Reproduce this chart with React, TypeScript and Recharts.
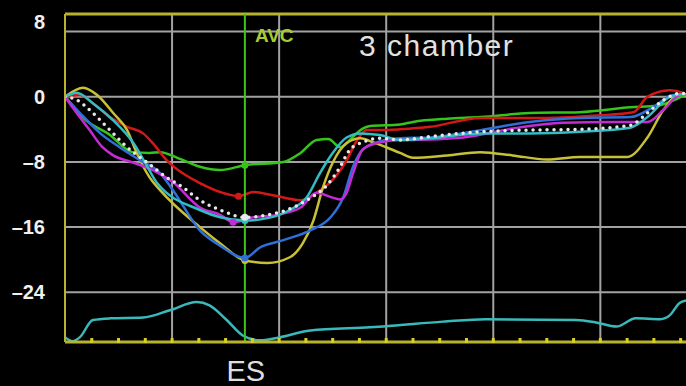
import React from "react";
import { LineChart, Line, XAxis, YAxis, CartesianGrid, ReferenceLine } from "recharts";

// time in ms (x), strain in % (y)
const X_MAX = 580;
const Y_MIN = -30.1;
const Y_MAX = 10.15;
const AVC_T = 168;

const yTicks = [8, 0, -8, -16, -24];
const majorTimes = [100, 200, 300, 400, 500];
const minorTimes = [25, 50, 75, 100, 125, 150, 175, 200, 225, 250, 275, 300, 325, 350, 375, 400, 425, 450, 475, 500, 525, 550, 575];

const green: [number, number][] = [
  [0, 0.1], [17, -2.6], [42, -4.7], [63, -6.8], [79, -6.9], [89, -6.8], [105, -7.5], [126, -8.6],
  [145, -9.0], [168, -8.4], [204, -8.0], [220, -6.9], [235, -5.3], [246, -5.2], [257, -6.2], [266, -5.3],
  [276, -4.1], [285, -3.6], [313, -3.4], [325, -3.1], [357, -2.7], [388, -2.5], [434, -2.0], [481, -1.9],
  [528, -1.3], [553, -1.1], [580, 0.3],
];
const red: [number, number][] = [
  [0, 0], [14, 0.2], [26, -0.8], [42, -2.5], [58, -3.7], [73, -4.5], [82, -5.7], [95, -7.8], [110, -9.4],
  [126, -10.6], [145, -11.7], [162, -12.2], [176, -11.7], [194, -12.1], [220, -12.7], [238, -11.5],
  [250, -10.2], [263, -7.8], [273, -5.3], [282, -4.1], [294, -4.1], [313, -4.0], [341, -3.7], [388, -2.6],
  [450, -2.6], [497, -2.3], [531, -1.9], [544, 0], [565, 0.8], [577, 0.5], [580, 0.2],
];
const yellow: [number, number][] = [
  [0, 0], [17, 1.1], [30, 0.2], [45, -2.0], [58, -4.1], [67, -6.9], [79, -9.9], [89, -11.5], [126, -16.0],
  [145, -18.0], [168, -20.1], [189, -20.4], [210, -19.7], [222, -18.0], [232, -15.2], [241, -11.1],
  [250, -8.1], [263, -5.7], [276, -5.1], [288, -5.6], [313, -6.9], [325, -7.5], [357, -7.2], [388, -6.8],
  [418, -7.2], [450, -7.7], [481, -7.4], [525, -7.4], [544, -5.0], [559, -1.6], [572, 0.2], [580, 0.3],
];
const cyan: [number, number][] = [
  [0, 0], [11, 0.5], [26, -0.8], [45, -2.9], [64, -5.7], [77, -8.6], [86, -10.6], [126, -13.9], [145, -14.8],
  [168, -15.2], [189, -14.9], [210, -13.9], [226, -12.3], [238, -9.4], [250, -6.9], [263, -5.0], [276, -4.5],
  [294, -4.7], [313, -5.3], [341, -5.1], [388, -4.5], [434, -4.5], [481, -4.3], [528, -3.8], [544, -2.5],
  [565, 0], [577, 0.3], [580, 0.3],
];
const blue: [number, number][] = [
  [0, 0], [14, -2.0], [33, -4.5], [51, -6.2], [70, -7.8], [89, -9.4], [101, -11.5], [126, -16.4],
  [145, -18.3], [168, -19.8], [182, -18.5], [204, -17.6], [229, -16.4], [248, -14.8], [260, -12.3],
  [269, -8.6], [278, -6.5], [291, -5.6], [313, -5.1], [341, -5.0], [388, -4.1], [434, -3.1], [481, -2.6],
  [528, -2.5], [549, -1.3], [568, 0.2], [580, 0.3],
];
const magenta: [number, number][] = [
  [0, 0], [7, -1.3], [23, -4.1], [35, -6.2], [45, -7.2], [64, -8.1], [82, -9.0], [101, -10.5], [126, -13.6],
  [145, -14.5], [157, -15.4], [176, -14.8], [198, -14.5], [220, -13.6], [235, -11.8], [248, -12.3],
  [257, -12.6], [263, -11.8], [269, -9.4], [278, -6.5], [291, -5.7], [313, -5.3], [325, -5.3], [372, -5.0],
  [418, -3.9], [465, -3.2], [512, -3.1], [544, -3.1], [559, -1.6], [574, 0.2], [580, 0.3],
];
const average: [number, number][] = [
  [0, 0], [11, -0.4], [26, -2.0], [42, -4.1], [58, -6.2], [77, -8.1], [95, -9.9], [110, -11.1], [126, -12.7],
  [145, -13.9], [168, -14.8], [189, -14.5], [207, -13.9], [226, -12.7], [245, -10.8], [257, -8.6],
  [266, -6.5], [278, -5.6], [294, -5.1], [313, -5.3], [341, -4.9], [388, -4.3], [434, -4.1], [481, -4.0],
  [528, -3.5], [544, -2.0], [559, -0.4], [574, 0.4], [580, 0.4],
];
const ecg: [number, number][] = [
  [0, -29.5], [7, -30.0], [14, -29.5], [26, -27.4], [42, -27.2], [73, -27.1], [98, -26.2], [123, -25.2],
  [135, -25.6], [151, -27.4], [166, -29.3], [182, -29.9], [198, -29.6], [229, -28.7], [285, -28.3],
  [297, -28.2], [353, -27.6], [393, -27.3], [477, -27.4], [496, -27.7], [515, -28.2], [533, -27.2],
  [556, -27.3], [565, -26.8], [574, -25.3], [580, -25.0],
];

const series = [
  { key: "green", pts: green, color: "#36c41c", markT: 168 },
  { key: "red", pts: red, color: "#d41818", markT: 162 },
  { key: "yellow", pts: yellow, color: "#c8c136", markT: 168 },
  { key: "blue", pts: blue, color: "#2f6fd8", markT: 168 },
  { key: "magenta", pts: magenta, color: "#c42ad6", markT: 157 },
  { key: "cyan", pts: cyan, color: "#32bcc4", markT: 168 },
];

const toRows = (pts: [number, number][]) => pts.map(([t, v]) => ({ t, v }));

const AXIS = "#b9b22c";
const GRID = "#a2a2a2";

const YTick = (props: any) => {
  const { x, y, payload } = props;
  const dy = payload.value === 8 ? -10 : 0;
  return (
    <text x={x} y={y + dy} dy="0.36em" textAnchor="end" fill="#f0f0f0"
      fontSize={20} fontWeight="bold" fontFamily="Liberation Sans, Arial, sans-serif">
      {payload.value === 0 || payload.value === 8 ? payload.value : "\u2013" + Math.abs(payload.value)}
    </text>
  );
};

// small square markers sitting on the bottom axis
const XTick = (props: any) => {
  const { x, y } = props;
  return <rect x={x - 1.5} y={y - 4} width={3} height={5} fill="#d8ce2a" />;
};

const AvcLabel = (props: any) => {
  const { x, y, height } = props.viewBox;
  return (
    <g fontFamily="Liberation Sans, Arial, sans-serif">
      <text x={x + 10} y={y + 28} fill="#a6cc30" fontSize={19} fontWeight="bold">AVC</text>
      <text x={x + 1} y={y + height + 39} fill="#dedede" fontSize={29} textAnchor="middle">ES</text>
    </g>
  );
};

const markDot = (color: string, markT: number) => (props: any) => {
  const { cx, cy, payload, index } = props;
  if (payload.t !== markT) return <g key={index} />;
  return <circle key={index} cx={cx} cy={cy} r={3.5} fill={color} />;
};

export default function App() {
  return (
    <div style={{ position: "absolute", left: 0, top: 0, width: 686, height: 386, background: "#000", overflow: "hidden" }}>
      <LineChart width={686} height={386} margin={{ top: 14, right: 0, left: 0, bottom: 0 }}>
        <CartesianGrid horizontal vertical={false} stroke={GRID} strokeWidth={2} />
        {majorTimes.map((t) => (
          <ReferenceLine key={t} x={t} stroke={GRID} strokeWidth={2} />
        ))}
        <ReferenceLine y={Y_MAX} stroke={AXIS} strokeWidth={3} />
        <XAxis type="number" dataKey="t" domain={[0, X_MAX]} ticks={minorTimes} height={44}
          axisLine={{ stroke: AXIS, strokeWidth: 3 }} tickLine={false}
          tickSize={0} tickMargin={0} tick={<XTick />} interval={0} allowDataOverflow />
        <YAxis type="number" dataKey="v" domain={[Y_MIN, Y_MAX]} ticks={yTicks} width={65}
          axisLine={{ stroke: AXIS, strokeWidth: 2 }} tickLine={false} tickSize={0} tickMargin={20}
          tick={<YTick />} allowDataOverflow interval={0} />
        {series.map((s) => (
          <Line key={s.key} data={toRows(s.pts)} dataKey="v" type="monotone" stroke={s.color}
            strokeWidth={2.5} dot={markDot(s.color, s.markT)} activeDot={false} isAnimationActive={false} />
        ))}
        <Line data={toRows(average)} dataKey="v" type="monotone" stroke="#e8e8e8" strokeWidth={3.5}
          strokeDasharray="0 7" strokeLinecap="round" dot={markDot("#e8e8e8", AVC_T)} activeDot={false}
          isAnimationActive={false} />
        <Line data={toRows(ecg)} dataKey="v" type="monotone" stroke="#3ab9bb" strokeWidth={2.5}
          dot={false} activeDot={false} isAnimationActive={false} />
        <ReferenceLine x={AVC_T} stroke="#3fc41a" strokeWidth={2} label={<AvcLabel />} />
      </LineChart>
      <div style={{ position: "absolute", left: 359, top: 31, fontSize: 30, lineHeight: "30px", letterSpacing: 1.5,
        color: "#e2e2e2", fontFamily: "Liberation Sans, Arial, sans-serif" }}>
        3 chamber
      </div>
    </div>
  );
}
